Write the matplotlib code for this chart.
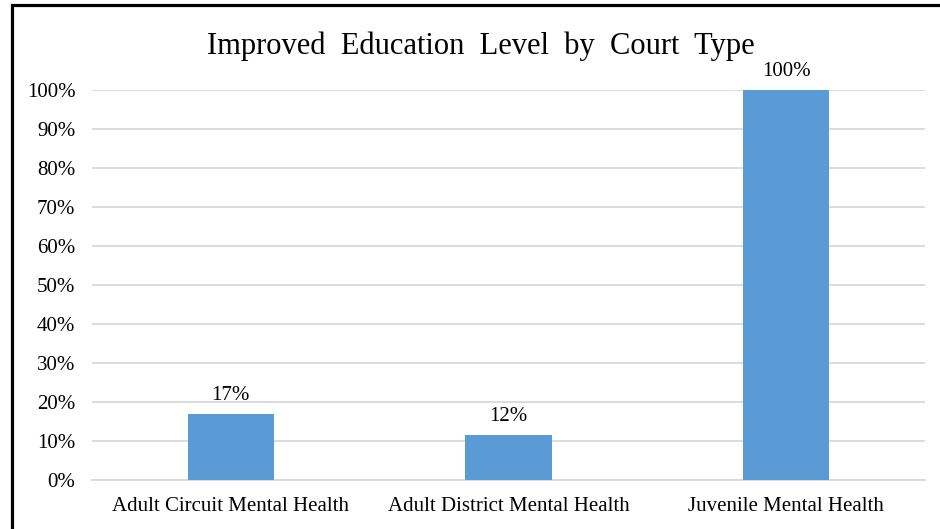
import matplotlib
matplotlib.use('Agg')
import matplotlib.pyplot as plt
from matplotlib.patches import Rectangle
from matplotlib.ticker import MultipleLocator, FuncFormatter

# Données
court_types = ['Adult Circuit Mental Health', 'Adult District Mental Health', 'Juvenile Mental Health']
improved_pct = [17, 11.6, 100]

W, H = 940, 529
fig = plt.figure(figsize=(W / 100, H / 100), dpi=100, facecolor='white')
ax = fig.add_axes([92 / W, 1 - 480 / H, 833 / W, 390 / H])

plt.rcParams['font.family'] = ['Liberation Serif', 'DejaVu Serif']

x = range(len(court_types))
bars = ax.bar(x, improved_pct, width=0.31, color='#5B9BD5', zorder=3)

for rect, v in zip(bars, improved_pct):
    ax.text(rect.get_x() + rect.get_width() / 2, v + 2.3, f'{v:.0f}%',
            ha='center', va='bottom', fontsize=15, family='Liberation Serif')

# Axes
ax.set_xlim(-0.5, len(court_types) - 0.5)
ax.set_ylim(0, 100)
ax.yaxis.set_major_locator(MultipleLocator(10))
ax.yaxis.set_major_formatter(FuncFormatter(lambda v, _: f'{v:.0f}%'))
ax.set_xticks(list(x))
ax.set_xticklabels(court_types)
ax.grid(True, axis='y', color='#D9D9D9', linewidth=1.3, zorder=0)
for s in ['top', 'right', 'left']:
    ax.spines[s].set_visible(False)
ax.spines['bottom'].set_color('#D9D9D9')
ax.spines['bottom'].set_linewidth(1.3)
ax.tick_params(length=0, labelsize=15)
ax.tick_params(axis='x', pad=12)
ax.tick_params(axis='y', pad=12)
for lbl in ax.get_xticklabels() + ax.get_yticklabels():
    lbl.set_family('Liberation Serif')

fig.text(481 / W, 1 - 46 / H, 'Improved  Education  Level  by  Court  Type',
         ha='center', va='center', fontsize=22, family='Liberation Serif')

# Cadre
fig.patches.append(Rectangle((11.5 / W, -0.1), 1.2, 1 - 5.5 / H + 0.1,
                             transform=fig.transFigure, fill=False,
                             edgecolor='black', linewidth=2.3))

fig.savefig('out.png', dpi=100, facecolor='white')
